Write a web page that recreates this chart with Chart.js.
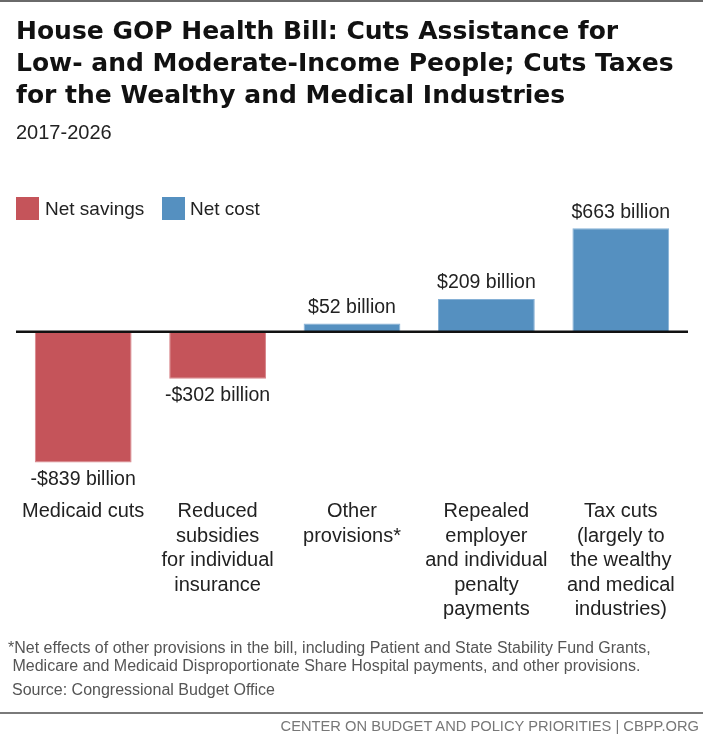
<!DOCTYPE html>
<html>
<head>
<meta charset="utf-8">
<script src="https://cdn.jsdelivr.net/npm/chart.js@4/dist/chart.umd.min.js"></script>
<style>
  html, body { margin: 0; padding: 0; background: #fff; }
  body { width: 703px; height: 747px; position: relative; overflow: hidden; font-family: "Liberation Sans", Arial, sans-serif; }
  #chart { position: absolute; left: 0; top: 0; }
  .abs { position: absolute; white-space: nowrap; }
  #topline { left: 0; top: 0; width: 703px; height: 2px; background: #6a6a6a; }
  #title { left: 16px; top: 15px; font-family: "DejaVu Sans", sans-serif; font-weight: bold; font-size: 25px; line-height: 32px; color: #111; letter-spacing: 0px; }
  #subtitle { left: 16px; top: 121px; font-size: 20px; color: #222; }
  .sw { width: 23px; height: 23px; top: 197px; }
  .lg { top: 196px; font-size: 19px; color: #222; line-height: 26px; }
  #note { left: 8px; top: 639px; font-size: 16px; line-height: 18px; color: #555; }
  #source { left: 12px; top: 681px; font-size: 16px; line-height: 18px; color: #555; }
  #sep { left: 0; top: 712px; width: 703px; height: 2px; background: #7a7a7a; }
  #footer { right: 4px; top: 718px; font-size: 14.7px; color: #777; }
</style>
</head>
<body>
<canvas id="chart" width="703" height="747"></canvas>
<div class="abs" id="topline"></div>
<div class="abs" id="title">House GOP Health Bill: Cuts Assistance for<br>Low- and Moderate-Income People; Cuts Taxes<br>for the Wealthy and Medical Industries</div>
<div class="abs" id="subtitle">2017-2026</div>
<div class="abs sw" style="left:16px;background:#c5545a;"></div>
<div class="abs lg" style="left:45px;">Net savings</div>
<div class="abs sw" style="left:162px;background:#5590c0;"></div>
<div class="abs lg" style="left:190px;">Net cost</div>
<div class="abs" id="note">*Net effects of other provisions in the bill, including Patient and State Stability Fund Grants,<br>&nbsp;Medicare and Medicaid Disproportionate Share Hospital payments, and other provisions.</div>
<div class="abs" id="source">Source: Congressional Budget Office</div>
<div class="abs" id="sep"></div>
<div class="abs" id="footer">CENTER ON BUDGET AND POLICY PRIORITIES | CBPP.ORG</div>
<script>
// ---- data ----
const categories = [
  ["Medicaid cuts"],
  ["Reduced", "subsidies", "for individual", "insurance"],
  ["Other", "provisions*"],
  ["Repealed", "employer", "and individual", "penalty", "payments"],
  ["Tax cuts", "(largely to", "the wealthy", "and medical", "industries)"]
];
const values = [-839, -302, 52, 209, 663]; // billions of dollars, 2017-2026
const yMin = -1000;
const yMax = 800;

// ---- styles ----
const RED = "#c5545a", BLUE = "#5590c0";
const RED_EDGE = "#d8868b", BLUE_EDGE = "#86b1d6";
const SANS = '"Liberation Sans", Arial, sans-serif';

const zeroLine = {
  id: "zeroLine",
  afterDatasetsDraw(chart) {
    const { ctx, chartArea, scales } = chart;
    const y = scales.y.getPixelForValue(0);
    ctx.save();
    ctx.strokeStyle = "#111";
    ctx.lineWidth = 2.5;
    ctx.beginPath();
    ctx.moveTo(chartArea.left, y);
    ctx.lineTo(chartArea.right, y);
    ctx.stroke();
    ctx.restore();
  }
};

const valueLabels = {
  id: "valueLabels",
  afterDatasetsDraw(chart) {
    const { ctx } = chart;
    const meta = chart.getDatasetMeta(0);
    ctx.save();
    ctx.font = "19.5px " + SANS;
    ctx.fillStyle = "#222";
    ctx.textAlign = "center";
    ctx.textBaseline = "middle";
    meta.data.forEach((bar, i) => {
      const v = values[i];
      const txt = (v < 0 ? "-$" : "$") + Math.abs(v) + " billion";
      const y = v < 0 ? bar.y + 17 : bar.y - 16;
      ctx.fillText(txt, bar.x, y);
    });
    ctx.restore();
  }
};

new Chart(document.getElementById("chart"), {
  type: "bar",
  data: {
    labels: categories,
    datasets: [{
      data: values,
      backgroundColor: c => (c.raw < 0 ? RED : BLUE),
      borderColor: c => (c.raw < 0 ? RED_EDGE : BLUE_EDGE),
      borderWidth: 1,
      borderSkipped: "start",
      barPercentage: 0.72,
      categoryPercentage: 1.0
    }]
  },
  options: {
    responsive: false,
    animation: false,
    devicePixelRatio: 1,
    layout: { padding: { top: 207, left: 16, right: 15, bottom: 113 } },
    plugins: { legend: { display: false }, tooltip: { enabled: false } },
    scales: {
      x: {
        grid: { display: false, drawTicks: false },
        border: { display: false },
        ticks: {
          color: "#222",
          font: { family: SANS, size: 20, lineHeight: 1.225 },
          padding: 12,
          maxRotation: 0,
          autoSkip: false
        }
      },
      y: { display: false, min: yMin, max: yMax }
    }
  },
  plugins: [zeroLine, valueLabels]
});
</script>
</body>
</html>
